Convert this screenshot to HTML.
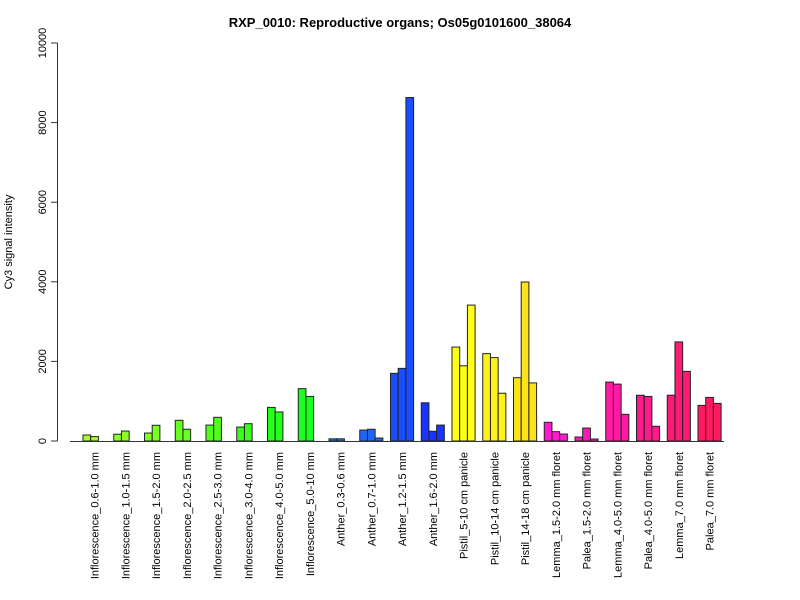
<!DOCTYPE html>
<html><head><meta charset="utf-8"><style>body{margin:0;background:#fff}svg{display:block;font-family:"Liberation Sans",Arial,sans-serif}</style></head>
<body>
<svg id="chart" width="800" height="600">
<text x="400" y="27" text-anchor="middle" font-weight="bold" font-size="13">RXP_0010: Reproductive organs; Os05g0101600_38064</text>
<text transform="translate(12,242) rotate(-90)" text-anchor="middle" font-size="11">Cy3 signal intensity</text>
<g id="yaxis"></g>
<g id="bars"></g>
<g id="xlabels"></g>
<line x1="70" y1="441.5" x2="724" y2="441.5" stroke="#333"/>
</svg>
<script>
const categories=["Inflorescence_0.6-1.0 mm","Inflorescence_1.0-1.5 mm","Inflorescence_1.5-2.0 mm","Inflorescence_2.0-2.5 mm","Inflorescence_2.5-3.0 mm","Inflorescence_3.0-4.0 mm","Inflorescence_4.0-5.0 mm","Inflorescence_5.0-10 mm","Anther_0.3-0.6 mm","Anther_0.7-1.0 mm","Anther_1.2-1.5 mm","Anther_1.6-2.0 mm","Pistil_5-10 cm panicle","Pistil_10-14 cm panicle","Pistil_14-18 cm panicle","Lemma_1.5-2.0 mm floret","Palea_1.5-2.0 mm floret","Lemma_4.0-5.0 mm floret","Palea_4.0-5.0 mm floret","Lemma_7.0 mm floret","Palea_7.0 mm floret"];
const rep1=[150,170,200,520,400,350,845,1315,55,275,1700,960,2360,2195,1590,470,100,1480,1150,1150,895];
const rep2=[110,250,395,295,595,435,730,1120,55,295,1825,245,1890,2095,3995,235,325,1430,1120,2490,1095];
const rep3=[null,null,null,null,null,null,null,null,null,75,8630,400,3415,1200,1460,175,50,670,370,1750,945];
const groupColors=["#a6ff2a","#8cff25","#7aff20","#66ff1e","#50ff1c","#3aff1a","#25ff1a","#1aff1f","#1a72ff","#1a66ff","#1a4dff","#1a33ff","#ffff1a","#fff21a","#ffe31a","#ff1ad0","#ff1ab8","#ff1aa3","#ff1a8c","#ff1a75","#ff1a60"];
const yTicks=[0,2000,4000,6000,8000,10000];
const NS="http://www.w3.org/2000/svg";
const y=v=>441-v*0.0398;
const gx=i=>83+i*30.75;
const bw=7.7;
function mk(t,a,p){const e=document.createElementNS(NS,t);for(const k in a)e.setAttribute(k,a[k]);p.appendChild(e);return e;}
const ya=document.getElementById('yaxis');
const yl=mk('line',{x1:57.5,y1:y(0),x2:57.5,y2:y(10000),stroke:'#333'},ya);


yTicks.forEach(t=>{
 const tk=mk('line',{x1:51,x2:57.5,y1:y(t),y2:y(t),stroke:'#333'},ya);
 
 
 const tx=mk('text',{transform:`translate(46,${y(t)}) rotate(-90)`,'text-anchor':'middle','font-size':11},ya);
 tx.textContent=t;
 
 
});
const bg=document.getElementById('bars'),xg=document.getElementById('xlabels');
categories.forEach((c,i)=>{
 [rep1[i],rep2[i],rep3[i]].forEach((v,j)=>{
  if(v==null)return;
  const r=mk('rect',{x:gx(i)+j*bw,y:y(v),width:bw,height:y(0)-y(v),fill:groupColors[i],stroke:'#222','stroke-width':1},bg);
  
  
 });
 const t=mk('text',{transform:`translate(${gx(i)+bw*1.5+4},452) rotate(-90)`,'text-anchor':'end','font-size':11},xg);
 t.textContent=c;
 
 
});
</script>
</body></html>
